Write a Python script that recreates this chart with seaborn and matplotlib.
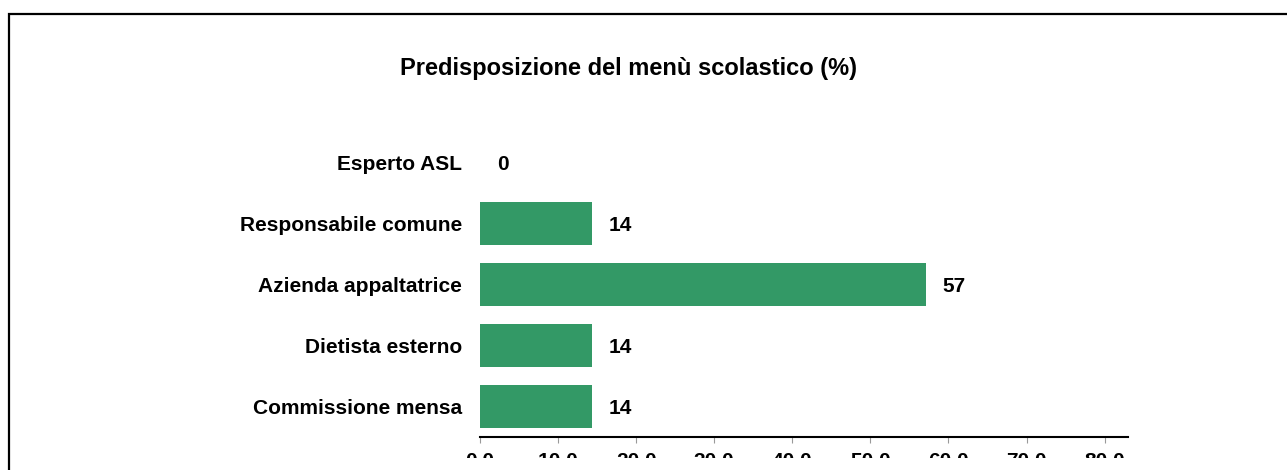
import matplotlib
matplotlib.use("Agg")
import matplotlib.pyplot as plt
from matplotlib.patches import Rectangle
import seaborn as sns

# data
categories = ["Esperto ASL", "Responsabile comune", "Azienda appaltatrice",
              "Dietista esterno", "Commissione mensa"]
values = [0.0, 14.3, 57.1, 14.3, 14.3]
xticks = [0, 10, 20, 30, 40, 50, 60, 70, 80]

sns.set_style("white")
plt.rcParams["font.family"] = ["Liberation Sans", "DejaVu Sans"]
plt.rcParams["font.weight"] = "bold"
plt.rcParams["text.color"] = "black"
plt.rcParams["xtick.color"] = "black"
plt.rcParams["ytick.color"] = "black"

fig = plt.figure(figsize=(12.87, 4.70), dpi=100)
ax = fig.add_axes([480 / 1287, 1 - 437 / 470, 648 / 1287, 305 / 470])

sns.barplot(x=values, y=categories, color="#339966", width=0.72,
            saturation=1, orient="h", linewidth=0, ax=ax)

ax.set_xlim(0, 83)
ax.set_ylim(4.5, -0.5)
ax.set_xticks(xticks)
ax.set_xticklabels([f"{t:.1f}" for t in xticks], fontsize=15, fontweight="bold")
ax.tick_params(axis="x", direction="out", length=4, width=0.8, color="#999999",
               labelcolor="black", pad=7, bottom=True)
ax.tick_params(axis="y", length=0, pad=13, labelsize=15, labelcolor="black")
for lab in ax.get_yticklabels():
    lab.set_fontweight("bold")
ax.set_xlabel("")
ax.set_ylabel("")

for side in ["top", "right", "left"]:
    ax.spines[side].set_visible(False)
ax.spines["bottom"].set_color("black")
ax.spines["bottom"].set_linewidth(1.5)

# value labels
for i, v in enumerate(values):
    ax.annotate(f"{v:.0f}", xy=(v, i), xytext=(12, -1.5), textcoords="offset points",
                ha="left", va="center", fontsize=15, fontweight="bold",
                color="black")

fig.text(628 / 1287, 1 - 68 / 470, "Predisposizione del menù scolastico (%)",
         ha="center", va="center", fontsize=17, fontweight="bold", color="black")

# the source image is cut just below the top of the tick labels
fig.add_artist(Rectangle((12 / 1287, 0), 1.0, 12.5 / 470,
                         transform=fig.transFigure, facecolor="white",
                         edgecolor="none", zorder=10))

# outer frame (cropped at right and bottom)
fig.add_artist(Rectangle((8.5 / 1287, -0.1), 1.2, 1 - 13.5 / 470 + 0.1,
                         transform=fig.transFigure, fill=False,
                         edgecolor="black", linewidth=1.6, clip_on=False,
                         zorder=11))

fig.savefig("out.png", dpi=100)
